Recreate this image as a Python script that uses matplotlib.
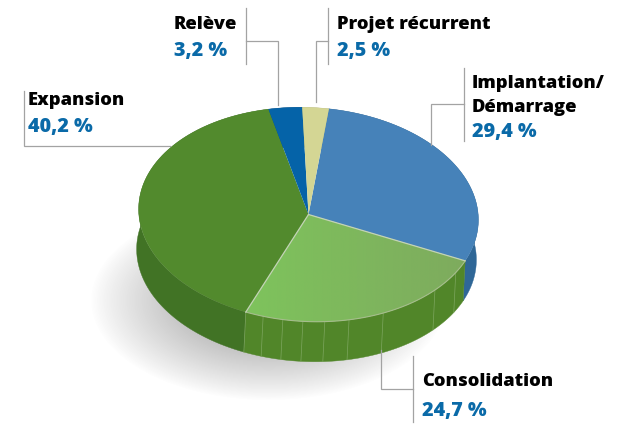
#!/usr/bin/env python3

import numpy as np
import matplotlib
matplotlib.use('Agg')
import matplotlib.pyplot as plt
from matplotlib.patches import Polygon

labels = ['Implantation/\nDémarrage', 'Consolidation', 'Expansion', 'Relève', 'Projet récurrent']
values = [29.4, 24.7, 40.2, 3.2, 2.5]
value_labels = ['29,4 %', '24,7 %', '40,2 %', '3,2 %', '2,5 %']
top_colors = ['#4682b9', '#7fbd62', '#528a2d', '#0563a8', '#d4d694']
wall_colors = ['#2f6797', '#518629', '#417325', '#034f86', '#b5b77a']

# geometry of the pie, in reference pixels
CX, CY = 308.5, 214.5
A, B = 170, 107
TILT = np.radians(3)
DX, DY = -2, 40
START = 5.0

# angles on the rim where the side wall has a faint seam
seam_angles = [118, 130, 152, 164.3, 172.6, 180, 186.8, 193.6]

GRAY = '#a3a3a3'
BLUE = '#0a6aa8'
FONT = 'Open Sans'


def rim(theta):
    t = np.radians(theta)
    x = A * np.sin(t)
    y = -B * np.cos(t)
    return (CX + x * np.cos(TILT) - y * np.sin(TILT),
            CY + x * np.sin(TILT) + y * np.cos(TILT))


fig = plt.figure(figsize=(6.18, 4.25), dpi=100)
ax = fig.add_axes([0, 0, 1, 1])
ax.set_xlim(0, 618)
ax.set_ylim(425, 0)
ax.axis('off')

# soft shadow under the pie
xx, yy = np.meshgrid(np.arange(618), np.arange(425))
d = np.sqrt(((xx - 268) / 178.0) ** 2 + ((yy - 300) / 100.0) ** 2)
shade = np.clip(1 - d, 0, 1) ** 0.9
rgba = np.zeros((425, 618, 4))
rgba[..., :3] = 0.45
rgba[..., 3] = shade * 0.8
ax.imshow(rgba, extent=(0, 618, 425, 0), aspect='auto', zorder=1, interpolation='bilinear')

# wedge limits from the values
edges = START + np.cumsum([0] + values) * 3.6

# side walls
for i in range(len(values)):
    th = np.linspace(edges[i], edges[i + 1], 80)
    x, y = rim(th)
    pts = np.r_[np.c_[x, y], np.c_[x + DX, y + DY][::-1]]
    ax.add_patch(Polygon(pts, closed=True, fc=wall_colors[i], ec=wall_colors[i], lw=0.3, zorder=2))

for s in seam_angles + [edges[2]]:
    x, y = rim(s)
    ax.plot([x, x + DX], [y, y + DY], color='#7da65f', lw=0.5, zorder=3)

# top faces
for i in range(len(values)):
    th = np.linspace(edges[i], edges[i + 1], 80)
    x, y = rim(th)
    pts = np.r_[[[CX, CY]], np.c_[x, y]]
    p = Polygon(pts, closed=True, fc=top_colors[i], ec='none', zorder=4)
    ax.add_patch(p)
    if i == 1:
        grad = np.linspace(0, 1, 256).reshape(1, -1, 1)
        c0 = np.array(matplotlib.colors.to_rgb('#7ec35c'))
        c1 = np.array(matplotlib.colors.to_rgb('#7eab5e'))
        img = c0 + (c1 - c0) * grad
        im = ax.imshow(img, extent=(250, 465, 325, 215), aspect='auto', zorder=5)
        im.set_clip_path(p)

# light edge around the consolidation wedge
th = np.linspace(edges[1], edges[2], 80)
x, y = rim(th)
ax.plot(x, y, color='#a5bd8c', lw=0.8, zorder=6)
for e in (edges[1], edges[2]):
    x, y = rim(e)
    ax.plot([CX, x], [CY, y], color='#c3d3b6', lw=0.9, zorder=6)

# leader lines
leaders = [
    ([246, 246], [8, 64]), ([246, 278, 278], [40.5, 40.5, 105]),
    ([328, 328], [8, 64]), ([328, 316, 316], [40.5, 40.5, 102]),
    ([23.5, 23.5, 170], [91, 146, 146]),
    ([463.5, 463.5], [68, 141]), ([463.5, 431, 431], [104, 104, 145]),
    ([413, 413], [356, 422]), ([413, 381, 381], [389, 389, 350]),
]
for lx, ly in leaders:
    ax.plot(lx, ly, color=GRAY, lw=0.9, zorder=7, solid_joinstyle='miter')

# labels: x, baseline of the name, baseline of the value
label_pos = [(472, 112, 137), (422, 386, 416), (28, 105, 132), (174, 29, 56), (337, 29, 56)]
for name, val, (tx, y1, y2) in zip(labels, value_labels, label_pos):
    parts = name.split('\n')
    for j, part in enumerate(parts):
        ax.text(tx, y1 - 24 * (len(parts) - 1 - j), part, fontsize=13.2, fontweight=800,
                family=FONT, color='black', va='baseline', ha='left', zorder=8)
    ax.text(tx, y2, val, fontsize=14.2, fontweight=800, family=FONT, color=BLUE,
            va='baseline', ha='left', zorder=8)

ax.set_xlim(0, 618)
ax.set_ylim(425, 0)
fig.savefig('out.png', dpi=100)
